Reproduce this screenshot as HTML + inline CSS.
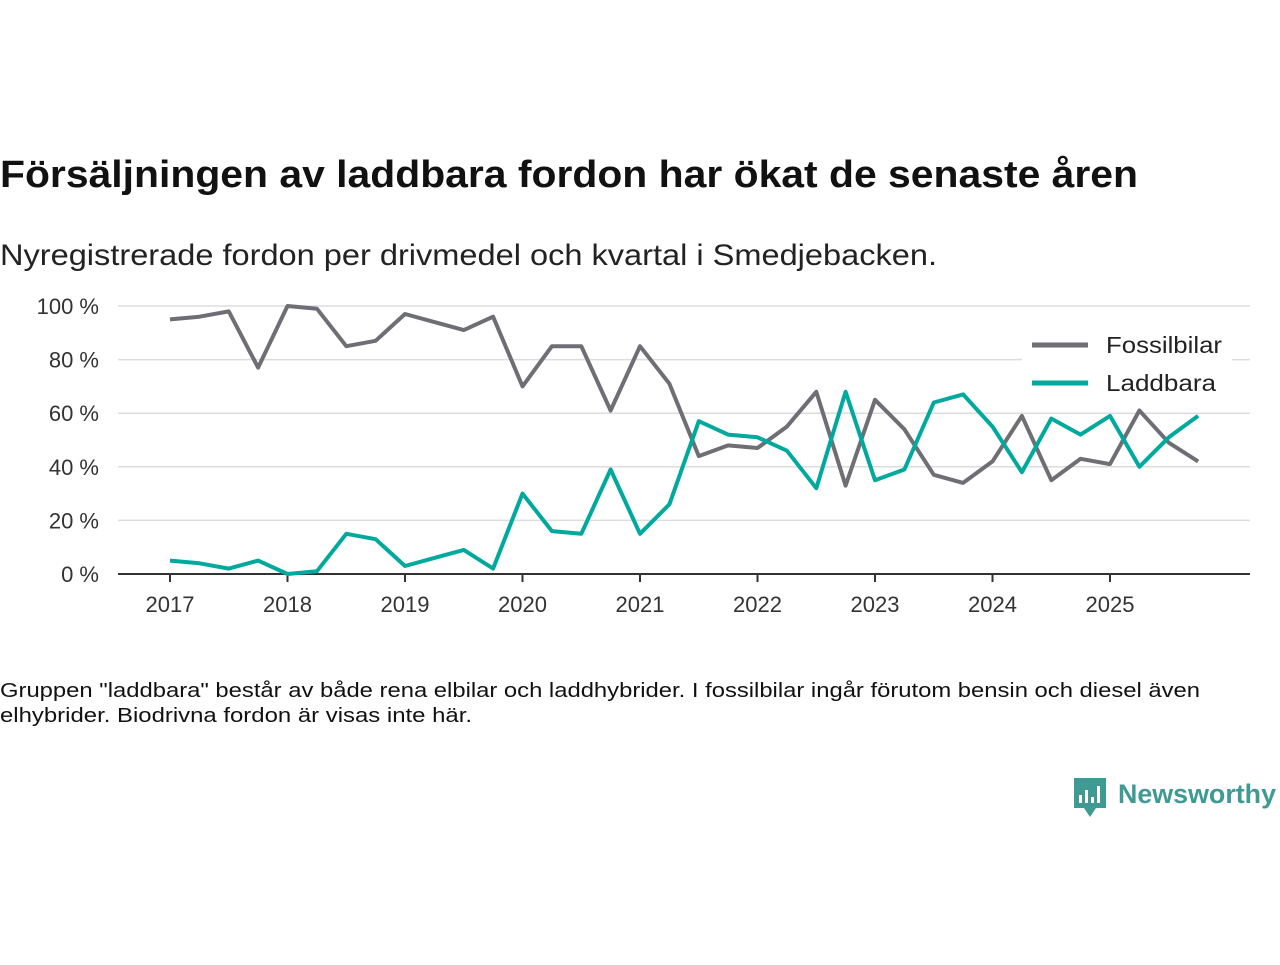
<!DOCTYPE html>
<html><head><meta charset="utf-8">
<style>
body{margin:0;width:1280px;height:960px;background:#fff;font-family:"Liberation Sans",sans-serif;overflow:hidden}
</style></head>
<body>
<svg width="1280" height="960">
<text x="0" y="187" font-size="38" font-weight="bold" fill="#111" textLength="1138" lengthAdjust="spacingAndGlyphs">Försäljningen av laddbara fordon har ökat de senaste åren</text>
<text x="0" y="265" font-size="30" fill="#222" textLength="937" lengthAdjust="spacingAndGlyphs">Nyregistrerade fordon per drivmedel och kvartal i Smedjebacken.</text>
<g id="grid"></g>
<g id="yticks"></g>
<g id="xticks"></g>
<g id="lines"></g>
<g>
<rect x="1022" y="328" width="210" height="72" fill="#fff"/>
<line x1="1032" y1="345" x2="1088" y2="345" stroke="#6e6e75" stroke-width="5"/>
<text x="1106" y="353" font-size="23" fill="#222" textLength="116" lengthAdjust="spacingAndGlyphs">Fossilbilar</text>
<line x1="1032" y1="383" x2="1088" y2="383" stroke="#00a99d" stroke-width="5"/>
<text x="1106" y="391" font-size="23" fill="#222" textLength="110" lengthAdjust="spacingAndGlyphs">Laddbara</text>
</g>
<text x="0" y="697" font-size="20" fill="#111" textLength="1200" lengthAdjust="spacingAndGlyphs">Gruppen "laddbara" består av både rena elbilar och laddhybrider. I fossilbilar ingår förutom bensin och diesel även</text>
<text x="0" y="722" font-size="20" fill="#111" textLength="472" lengthAdjust="spacingAndGlyphs">elhybrider. Biodrivna fordon är visas inte här.</text>
<g>
<path d="M1074 778 h32 v30 h-10 l-6 9 l-6 -9 h-10 z" fill="#3f9a93"/>
<rect x="1079" y="795" width="3" height="8" fill="#fff"/><rect x="1085" y="790" width="3" height="13" fill="#fff"/><rect x="1091" y="797" width="3" height="6" fill="#fff"/><rect x="1097" y="786" width="3" height="17" fill="#fff"/>
<text x="1118" y="803" font-size="27" font-weight="bold" fill="#3f9a93" textLength="158" lengthAdjust="spacingAndGlyphs">Newsworthy</text>
</g>
</svg>
<script>
const years=[2017,2018,2019,2020,2021,2022,2023,2024,2025];
const yTicks=[0,20,40,60,80,100];
const fossil=[95,96,98,77,100,99,85,87,97,94,91,96,70,85,85,61,85,71,44,48,47,55,68,33,65,54,37,34,42,59,35,43,41,61,49,42];
const laddbara=[5,4,2,5,0,1,15,13,3,6,9,2,30,16,15,39,15,26,57,52,51,46,32,68,35,39,64,67,55,38,58,52,59,40,51,59];
const NS="http://www.w3.org/2000/svg";
const x=t=>170+(t-2017)*117.5;
const y=v=>574-v*2.68;
function mk(tag,attrs,parent){const e=document.createElementNS(NS,tag);for(const k in attrs)e.setAttribute(k,attrs[k]);parent.appendChild(e);return e;}
const grid=document.getElementById('grid'),yt=document.getElementById('yticks'),xt=document.getElementById('xticks'),ln=document.getElementById('lines');
yTicks.forEach(v=>{
 if(v>0){const g=mk('line',{x1:118,x2:1250,y1:y(v),y2:y(v),stroke:'#ddd','stroke-width':1.5},grid);
 
 }
 const t=mk('text',{x:99,y:y(v)+8,'font-size':22,fill:'#333','text-anchor':'end'},yt);t.textContent=v+' %';
 
 
});
const ax=mk('line',{x1:118,x2:1250,y1:y(0),y2:y(0),stroke:'#333','stroke-width':2},xt);


years.forEach(yr=>{
 const tk=mk('line',{x1:x(yr),x2:x(yr),y1:574,y2:582,stroke:'#333','stroke-width':2},xt);
 
 
 const t=mk('text',{x:x(yr),y:612,'font-size':22,fill:'#333','text-anchor':'middle'},xt);t.textContent=yr;
 
 
});
function line(data,color,name){
 const d=data.map((v,i)=>(i?'L':'M')+x(2017+i/4).toFixed(1)+' '+y(v).toFixed(1)).join(' ');
 const p=mk('path',{d:d,fill:'none',stroke:color,'stroke-width':4,'stroke-linejoin':'round'},ln);
 
 
}
line(fossil,'#6e6e75','line-fossilbilar');
line(laddbara,'#00a99d','line-laddbara');
</script>
</body></html>
